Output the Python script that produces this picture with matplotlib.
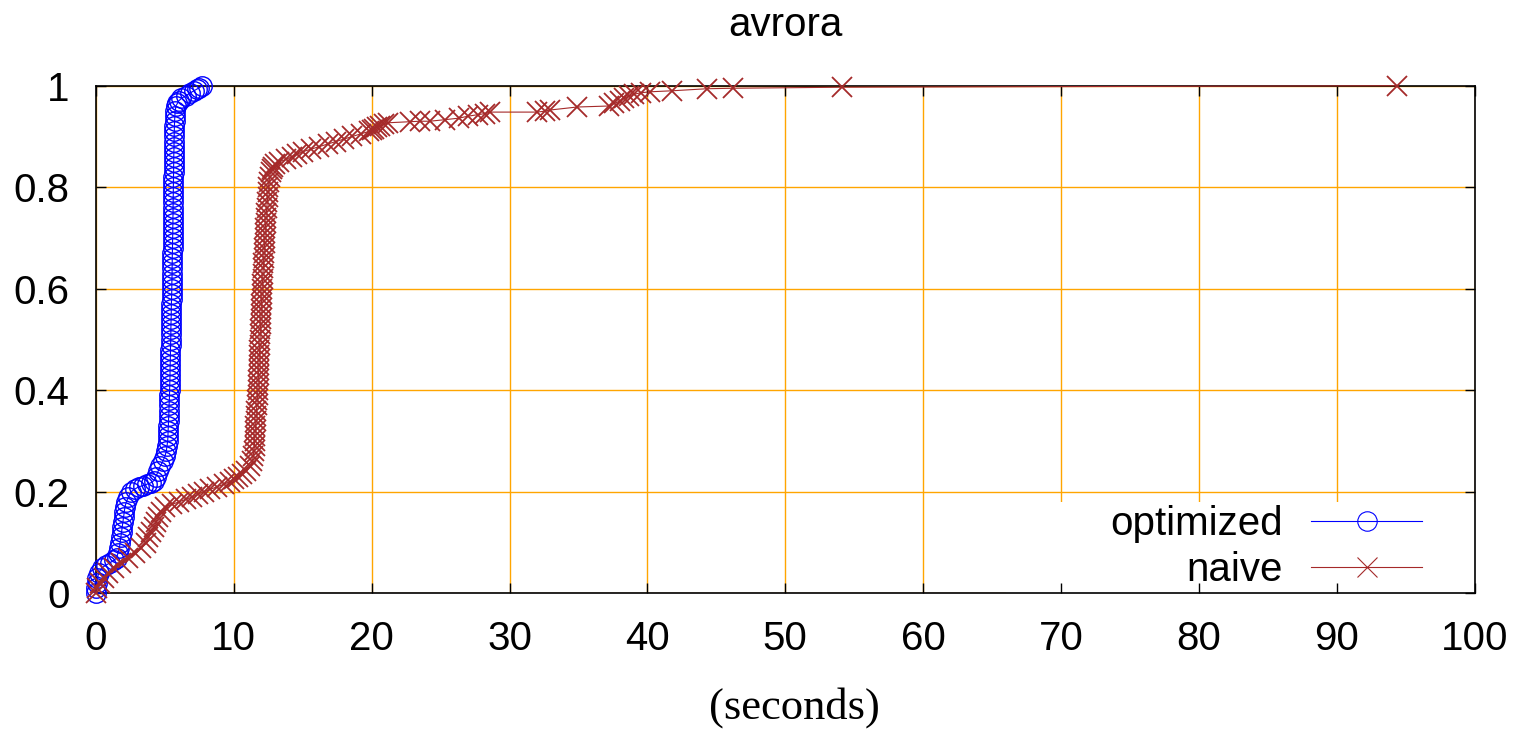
import matplotlib
matplotlib.use("Agg")
import matplotlib.pyplot as plt
from matplotlib.patches import Rectangle

# ---------------- data ----------------
opt_x = [0.00, 0.00, 0.05, 0.10, 0.20, 0.40, 0.70, 1.00, 1.30, 1.50,
         1.60, 1.70, 1.75, 1.80, 1.85, 1.90, 1.95, 2.00, 2.05, 2.10,
         2.20, 2.35, 2.55, 2.80, 3.10, 3.40, 3.70, 4.00, 4.20, 4.35,
         4.50, 4.65, 4.85, 5.00, 5.10, 5.15,
         5.20, 5.22, 5.23, 5.25, 5.26, 5.28, 5.29, 5.30, 5.32, 5.33,
         5.34, 5.35, 5.36, 5.37, 5.37, 5.38, 5.39, 5.40, 5.40, 5.41,
         5.42, 5.43, 5.43, 5.44, 5.45, 5.46, 5.46, 5.47, 5.48, 5.49,
         5.50, 5.50, 5.51, 5.52, 5.52, 5.53, 5.53, 5.54, 5.55, 5.55,
         5.56, 5.57, 5.57, 5.58, 5.58, 5.59, 5.59, 5.60, 5.60, 5.61,
         5.61, 5.62, 5.62, 5.63, 5.63, 5.64, 5.64, 5.65, 5.66, 5.66,
         5.67, 5.68, 5.69, 5.70, 5.72, 5.74,
         5.80, 5.90, 6.00, 6.20, 6.50, 6.80, 7.10, 7.30, 7.50, 7.70]
opt_y = [0.000, 0.010, 0.020, 0.030, 0.040, 0.050, 0.055, 0.060, 0.065, 0.070,
         0.080, 0.090, 0.100, 0.110, 0.120, 0.130, 0.140, 0.150, 0.160, 0.170,
         0.180, 0.190, 0.200, 0.205, 0.210, 0.212, 0.215, 0.218, 0.222, 0.230,
         0.240, 0.250, 0.260, 0.270, 0.280, 0.290,
         0.30, 0.31, 0.32, 0.33, 0.34, 0.35, 0.36, 0.37, 0.38, 0.39,
         0.40, 0.41, 0.42, 0.43, 0.44, 0.45, 0.46, 0.47, 0.48, 0.49,
         0.50, 0.51, 0.52, 0.53, 0.54, 0.55, 0.56, 0.57, 0.58, 0.59,
         0.60, 0.61, 0.62, 0.63, 0.64, 0.65, 0.66, 0.67, 0.68, 0.69,
         0.70, 0.71, 0.72, 0.73, 0.74, 0.75, 0.76, 0.77, 0.78, 0.79,
         0.80, 0.81, 0.82, 0.83, 0.84, 0.85, 0.86, 0.87, 0.88, 0.89,
         0.90, 0.91, 0.92, 0.93, 0.94, 0.95,
         0.960, 0.965, 0.970, 0.975, 0.980, 0.985, 0.990, 0.993, 0.996, 1.000]

naive_x = [0.00, 0.10, 0.30, 0.60, 0.90, 1.30, 1.80, 2.30, 2.80, 3.30,
           3.60, 3.80, 4.00, 4.20, 4.35, 4.50, 4.70, 5.00, 5.50, 6.00,
           6.50, 7.00, 7.40, 7.80, 8.30, 8.80, 9.30, 9.70, 10.00, 10.30,
           10.60, 10.90, 11.20, 11.35, 11.40, 11.45, 11.50,
           11.50, 11.52, 11.55, 11.57, 11.60, 11.62, 11.64, 11.67, 11.69, 11.72,
           11.74, 11.76, 11.77, 11.79, 11.80, 11.82, 11.83, 11.85, 11.86, 11.88,
           11.90, 11.91, 11.93, 11.94, 11.96, 11.97, 11.99, 12.00, 12.02, 12.03,
           12.05, 12.07, 12.09, 12.11, 12.13, 12.15, 12.17, 12.19, 12.21, 12.23,
           12.25, 12.27, 12.29, 12.31, 12.33, 12.36, 12.39, 12.42, 12.45, 12.48,
           12.51, 12.55, 12.60, 12.66,
           12.75, 12.85, 13.00, 13.30, 13.80, 14.20, 14.60, 15.00, 15.60, 16.20,
           16.80, 17.40, 18.00, 18.60, 19.20, 19.80, 20.00, 20.20, 20.40, 20.60,
           20.90, 21.20,
           22.80, 23.50, 24.20, 25.30, 26.30, 27.00, 27.70, 28.20, 28.60,
           32.00, 32.60, 32.90, 34.90,
           37.20, 37.60, 38.00, 38.30, 38.70, 39.00, 39.50, 40.20, 41.80,
           44.30, 46.20, 54.10, 94.40]
naive_y = [0.000, 0.010, 0.020, 0.030, 0.040, 0.050, 0.060, 0.070, 0.080, 0.090,
           0.100, 0.110, 0.120, 0.130, 0.140, 0.150, 0.160, 0.170, 0.175, 0.180,
           0.185, 0.190, 0.195, 0.200, 0.205, 0.210, 0.215, 0.220, 0.225, 0.230,
           0.235, 0.240, 0.250, 0.260, 0.270, 0.280, 0.290,
           0.30, 0.31, 0.32, 0.33, 0.34, 0.35, 0.36, 0.37, 0.38, 0.39,
           0.40, 0.41, 0.42, 0.43, 0.44, 0.45, 0.46, 0.47, 0.48, 0.49,
           0.50, 0.51, 0.52, 0.53, 0.54, 0.55, 0.56, 0.57, 0.58, 0.59,
           0.60, 0.61, 0.62, 0.63, 0.64, 0.65, 0.66, 0.67, 0.68, 0.69,
           0.70, 0.71, 0.72, 0.73, 0.74, 0.75, 0.76, 0.77, 0.78, 0.79,
           0.80, 0.81, 0.82, 0.83,
           0.835, 0.840, 0.845, 0.850, 0.855, 0.860, 0.865, 0.870, 0.875, 0.880,
           0.885, 0.890, 0.895, 0.900, 0.905, 0.910, 0.912, 0.915, 0.918, 0.921,
           0.924, 0.927,
           0.929, 0.930, 0.930, 0.933, 0.936, 0.940, 0.943, 0.945, 0.948,
           0.948, 0.950, 0.952, 0.958,
           0.960, 0.965, 0.970, 0.975, 0.980, 0.983, 0.986, 0.988, 0.990,
           0.994, 0.995, 0.997, 1.000]

series_labels = ["optimized", "naive"]
title_text = "avrora"
xlabel_text = "(seconds)"
x_ticks = [0, 10, 20, 30, 40, 50, 60, 70, 80, 90, 100]
y_ticks = [0, 0.2, 0.4, 0.6, 0.8, 1]
y_tick_labels = ["0", "0.2", "0.4", "0.6", "0.8", "1"]

# ---------------- figure ----------------
W, H = 1526, 732
plt.rcParams['font.family'] = ['Liberation Sans', 'DejaVu Sans']
fig = plt.figure(figsize=(W / 100, H / 100), dpi=100)
ax = fig.add_axes([96 / W, 1 - 593.3 / H, (1474.5 - 96) / W, (593.3 - 85.7) / H])

ax.set_xlim(0, 100)
ax.set_ylim(0, 1)

# grid drawn manually so a white key box can sit above it but below ticks
for xv in x_ticks:
    ax.axvline(xv, color='#FFA500', lw=1.0, zorder=0.5)
for yv in y_ticks:
    ax.axhline(yv, color='#FFA500', lw=1.0, zorder=0.5)

# opaque key background
ax.add_patch(Rectangle((0.66, 0.0), 0.34, 0.18, transform=ax.transAxes,
                       facecolor='white', edgecolor='none', zorder=1))

blue = '#0000FF'
red = '#A52A2A'
ax.plot(opt_x, opt_y, color=blue, lw=0.8, marker='o', markersize=14,
        markerfacecolor='none', markeredgecolor=blue, markeredgewidth=1.0,
        label=series_labels[0], clip_on=False, zorder=3)
ax.plot(naive_x, naive_y, color=red, lw=0.8, marker='x', markersize=14,
        markeredgecolor=red, markeredgewidth=1.3,
        label=series_labels[1], clip_on=False, zorder=3)

ax.set_axisbelow(False)
ax.set_xticks(x_ticks)
ax.set_xticklabels([str(v) for v in x_ticks])
ax.set_yticks(y_ticks)
ax.set_yticklabels(y_tick_labels)
ax.tick_params(axis='both', direction='in', length=7, width=1.0, color='black',
               labelsize=29, top=True, right=True)
ax.tick_params(axis='x', pad=19)
ax.tick_params(axis='y', pad=19)
for sp in ax.spines.values():
    sp.set_linewidth(1.2)
    sp.set_color('black')
    sp.set_zorder(2.6)

ax.set_title(title_text, fontsize=29, pad=36)
fig.text(794 / W, 1 - 708 / H, xlabel_text, ha='center', va='center',
         fontsize=32, family=['Liberation Serif', 'DejaVu Serif'])

leg = ax.legend(loc='lower right', bbox_to_anchor=(1422 / W, 1 - 589 / H),
                bbox_transform=fig.transFigure, frameon=False, borderpad=0,
                borderaxespad=0, markerfirst=False, fontsize=29,
                handlelength=2.75, handletextpad=0.7, labelspacing=0.2)
for h in leg.legend_handles:
    h.set_markeredgewidth(0.8)
leg.set_zorder(4)

fig.savefig('out.png', dpi=100)
